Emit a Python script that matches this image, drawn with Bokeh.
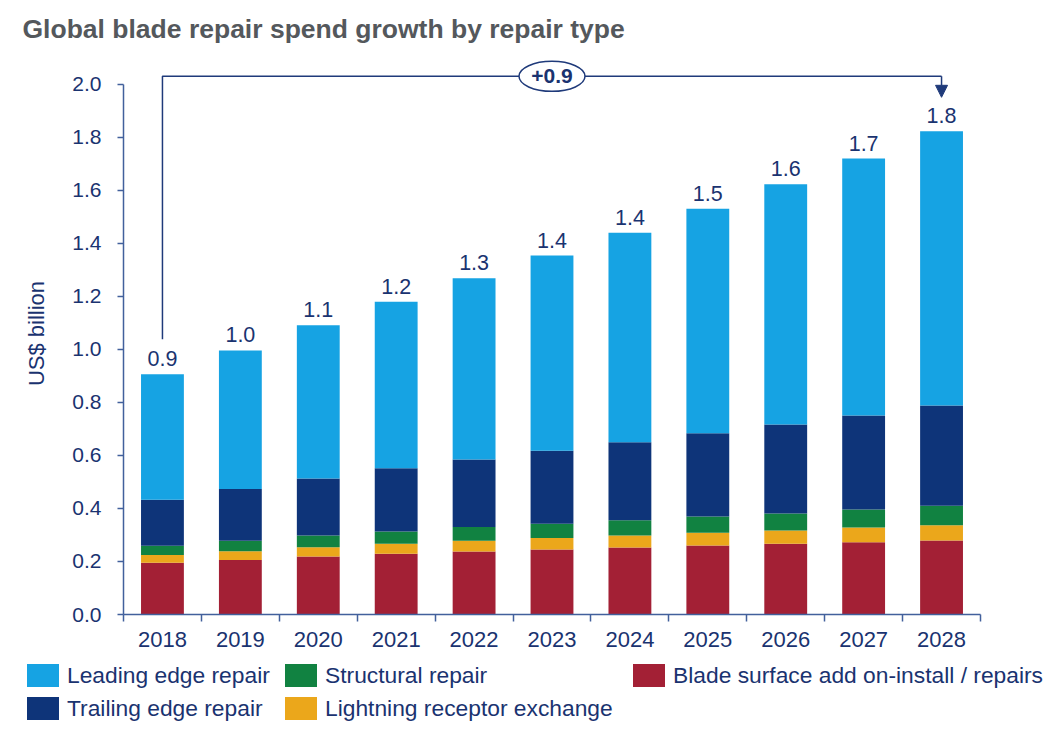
from bokeh.plotting import figure
from bokeh.layouts import column
from bokeh.models import (FixedTicker, Range1d, NumeralTickFormatter, Title, Arrow, NormalHead, Div)
from bokeh.embed import file_html
from bokeh.resources import INLINE
from bokeh.core.properties import value

years = ["2018", "2019", "2020", "2021", "2022", "2023", "2024", "2025", "2026", "2027", "2028"]
blade_surface = [0.195, 0.206, 0.219, 0.229, 0.238, 0.245, 0.253, 0.260, 0.267, 0.273, 0.279]
lightning = [0.029, 0.033, 0.035, 0.038, 0.040, 0.044, 0.045, 0.048, 0.050, 0.055, 0.058]
structural = [0.035, 0.039, 0.044, 0.046, 0.052, 0.053, 0.058, 0.062, 0.064, 0.068, 0.073]
trailing = [0.174, 0.195, 0.215, 0.239, 0.255, 0.276, 0.294, 0.314, 0.336, 0.355, 0.378]
leading = [0.473, 0.523, 0.578, 0.628, 0.683, 0.736, 0.790, 0.847, 0.906, 0.969, 1.035]
total_labels = ["0.9", "1.0", "1.1", "1.2", "1.3", "1.4", "1.4", "1.5", "1.6", "1.7", "1.8"]
y_ticks = [0.0, 0.2, 0.4, 0.6, 0.8, 1.0, 1.2, 1.4, 1.6, 1.8, 2.0]
growth_label = "+0.9"

names = ["Blade surface add on-install / repairs", "Lightning receptor exchange",
         "Structural repair", "Trailing edge repair", "Leading edge repair"]
colors = ["#a32035", "#eba71b", "#118241", "#0e3479", "#16a3e3"]
keys = ["blade", "lightning", "structural", "trailing", "leading"]

FONT = "Liberation Sans"
NAVY_TXT = "#1a3370"
AXIS_C = "#42609c"
BRACKET_C = "#1f3a7a"

xs = [i + 0.5 for i in range(len(years))]
totals = [a + b + c + d + e for a, b, c, d, e in zip(blade_surface, lightning, structural, trailing, leading)]

data = dict(x=xs, blade=blade_surface, lightning=lightning, structural=structural,
            trailing=trailing, leading=leading, total=totals, lab=total_labels)

W = 1034
H1 = 660
H2 = 68

p = figure(width=W, height=H1, x_range=Range1d(0, len(years)), y_range=Range1d(0, 2.12),
           output_backend="svg", toolbar_location=None,
           min_border_left=123, min_border_right=54, min_border_top=52, min_border_bottom=46)

p.title = Title(text="Global blade repair spend growth by repair type", align="left", offset=-101,
                text_font_size="26.5px", text_font=FONT, text_font_style="bold",
                text_color="#54585c", standoff=17)

rs = p.vbar_stack(keys, x="x", width=0.55, color=colors, line_color=None, source=data)

p.text(x="x", y="total", text="lab", source=data, text_align="center", text_baseline="bottom",
       y_offset=-8, text_font=value(FONT), text_font_size="21.5px", text_color=NAVY_TXT)

# bracket showing growth from first to last year
bracket_y = 2.03
p.line(x=[xs[0], xs[0], xs[-1]], y=[totals[0] + 0.132, bracket_y, bracket_y],
       line_color=BRACKET_C, line_width=1.5)
p.add_layout(Arrow(end=NormalHead(size=12, fill_color=BRACKET_C, line_color=BRACKET_C, line_width=1),
                   x_start=xs[-1], y_start=bracket_y, x_end=xs[-1], y_end=totals[-1] + 0.128,
                   line_color=BRACKET_C, line_width=1.5))
p.ellipse(x=[xs[5]], y=[bracket_y], width=66, height=30, width_units="screen", height_units="screen",
          fill_color="white", line_color=BRACKET_C, line_width=1.5)
p.text(x=[xs[5]], y=[bracket_y], text=[growth_label], text_align="center", text_baseline="middle",
       text_font=value(FONT), text_font_size="21px", text_font_style="bold", text_color=NAVY_TXT)

p.xgrid.visible = False
p.ygrid.visible = False
p.outline_line_color = None

yax = p.yaxis[0]
yax.ticker = FixedTicker(ticks=y_ticks, minor_ticks=[])
yax.formatter = NumeralTickFormatter(format="0.0")
yax.bounds = (0, 2.0)
yax.axis_label = "US$ billion"
yax.axis_label_text_font = FONT
yax.axis_label_text_font_size = "22px"
yax.axis_label_text_font_style = "normal"
yax.axis_label_text_color = NAVY_TXT
yax.axis_label_standoff = 20
yax.major_label_text_font = FONT
yax.major_label_text_font_size = "21px"
yax.major_label_text_color = NAVY_TXT
yax.major_label_standoff = 16
yax.major_tick_out = 6
yax.major_tick_in = 0
yax.axis_line_color = AXIS_C
yax.major_tick_line_color = AXIS_C
yax.axis_line_width = 1.5
yax.major_tick_line_width = 1.5

xax = p.xaxis[0]
xax.ticker = FixedTicker(ticks=xs, minor_ticks=list(range(len(years) + 1)))
xax.major_label_overrides = {x: y for x, y in zip(xs, years)}
xax.major_label_text_font = FONT
xax.major_label_text_font_size = "22px"
xax.major_label_text_color = NAVY_TXT
xax.major_label_standoff = 10
xax.major_tick_out = 0
xax.major_tick_in = 0
xax.minor_tick_out = 7
xax.minor_tick_in = 0
xax.minor_tick_line_color = AXIS_C
xax.minor_tick_line_width = 1.5
xax.axis_line_color = AXIS_C
xax.axis_line_width = 1.5

# legend (HTML strip under the chart): (series index, left px, top px)
legend_layout = [(4, 27, 4), (2, 285, 4), (0, 633, 4), (3, 27, 37), (1, 285, 37)]


def legend_entry(i, left, top):
    return ('<div style="position:absolute;left:%dpx;top:%dpx;display:flex;align-items:center;'
            'white-space:nowrap;height:23px;">'
            '<span style="display:inline-block;width:32px;height:23px;background:%s;margin-right:8px;"></span>'
            '<span style="font-family:\'%s\';font-size:22.8px;line-height:23px;color:%s;">%s</span></div>'
            % (left, top, colors[i], FONT, NAVY_TXT, names[i]))


html = ('<div style="position:relative;width:%dpx;height:%dpx;">' % (W, H2)
        + "".join(legend_entry(*e) for e in legend_layout) + "</div>")
legend_div = Div(text=html, width=W, height=H2, margin=0)

layout = column(p, legend_div, spacing=0)
open("out.html", "w").write(file_html(layout, INLINE))
